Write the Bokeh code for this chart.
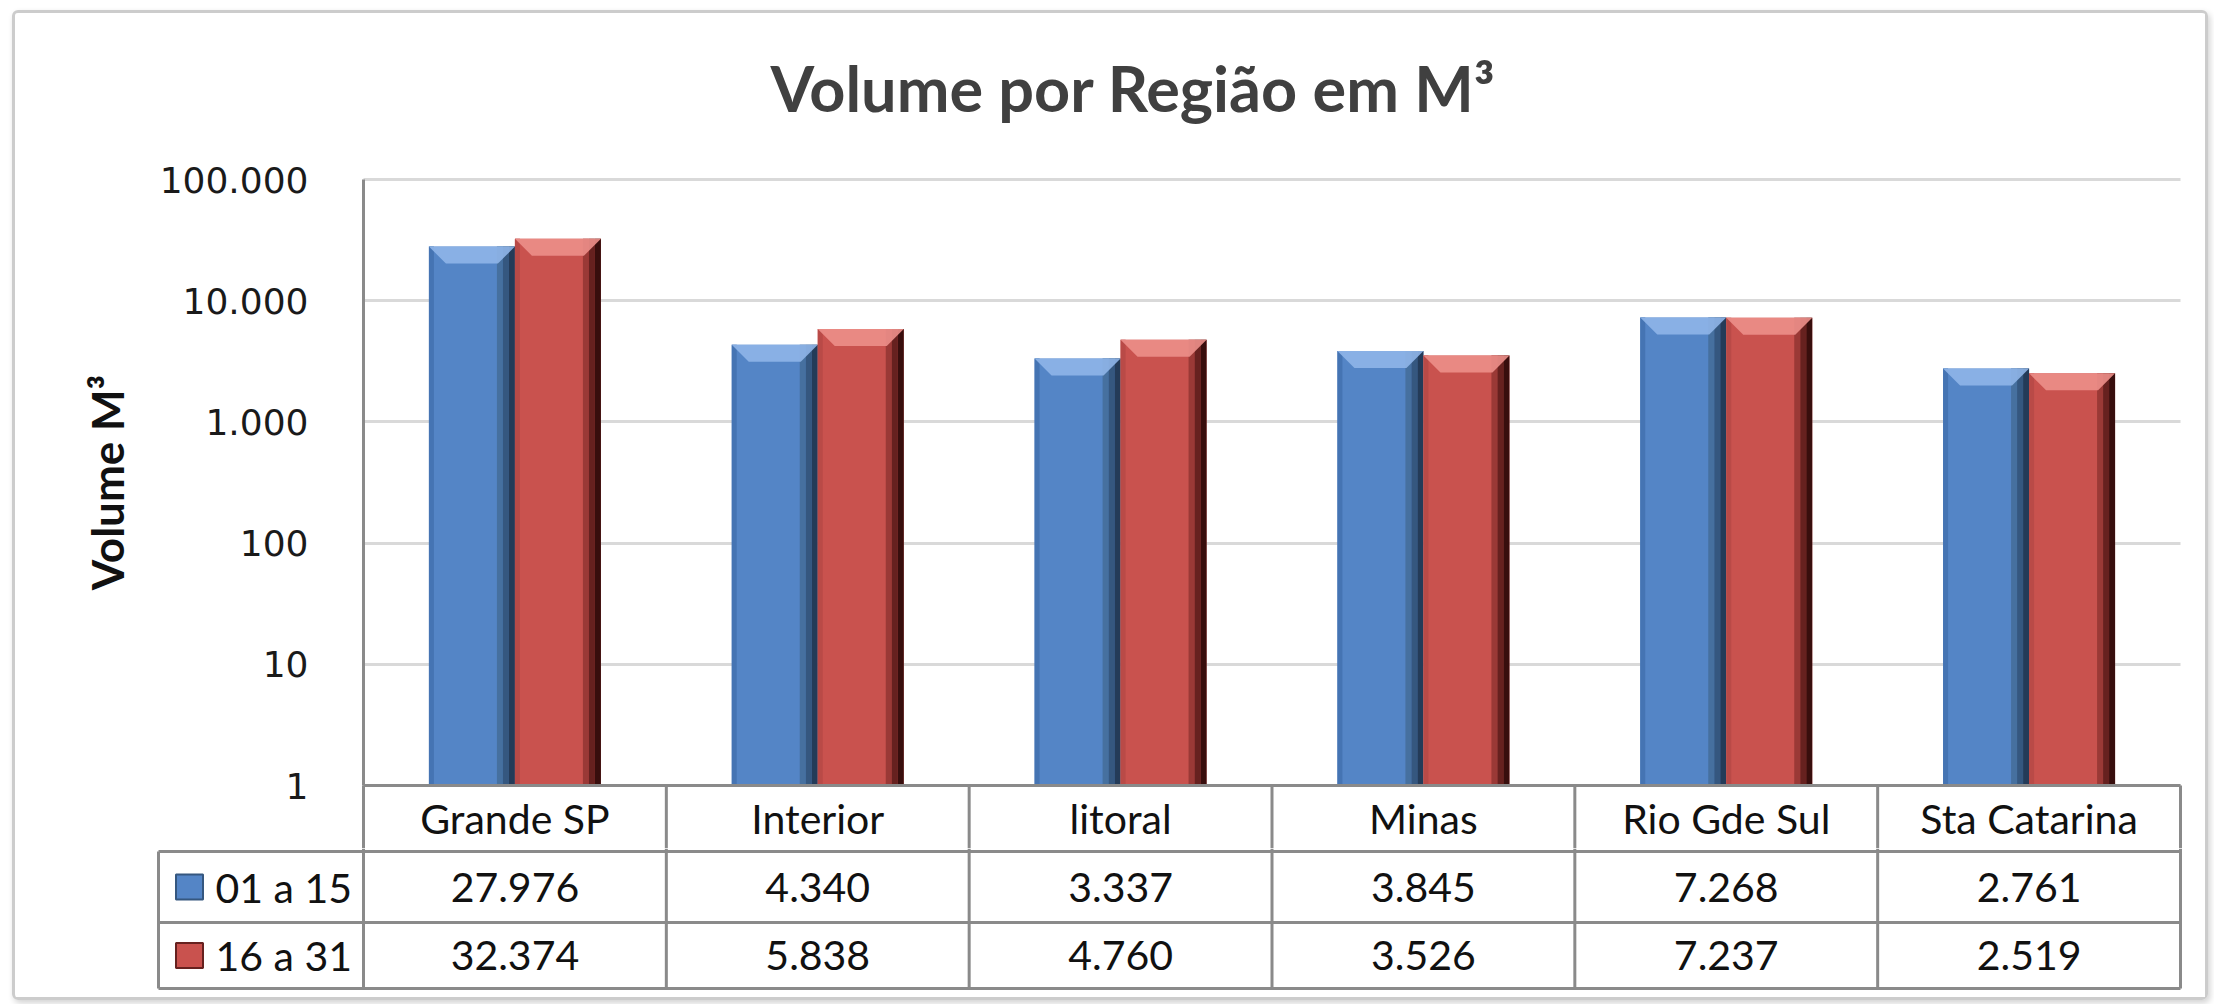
from bokeh.plotting import figure
from bokeh.layouts import column
from bokeh.models import Range1d, FixedTicker, CustomJSTickFormatter, BoxAnnotation
from bokeh.core.properties import value
from bokeh.embed import file_html
from bokeh.resources import INLINE

# ---------------- data ----------------
categories = ["Grande SP", "Interior", "litoral", "Minas", "Rio Gde Sul", "Sta Catarina"]
series_names = ["01 a 15", "16 a 31"]
vol_01_15 = [27976, 4340, 3337, 3845, 7268, 2761]
vol_16_31 = [32374, 5838, 4760, 3526, 7237, 2519]
y_ticks = [1, 10, 100, 1000, 10000, 100000]
y_tick_labels = ["1", "10", "100", "1.000", "10.000", "100.000"]
TITLE = "Volume por Região em M³"
Y_LABEL = "Volume M³"

# ---------------- geometry / style ----------------
FW = 2190                # figure width
N = len(categories)
PX = 1817 / N            # pixels per category
DEC = 121.2              # pixels per decade
BAR_W = 86 / PX
OFFS = [-43 / PX, 43 / PX]
STYLE = [
    dict(main="#5485c6", chamfer="#8fb5e8", left="#4574b3",
         right=["#46709f", "#35577f", "#243b58"]),
    dict(main="#c9524e", chamfer="#ec8f8a", left="#b94a47",
         right=["#9a3936", "#66211f", "#380e0d"]),
]
FONT_TXT = "Lato"
LINE = "#8a8a8a"
XR = (-313 / PX, N + 4 / PX)

def fmt(v):
    return f"{v:,}".replace(",", ".")

# ---------------- chart figure (plot area + category row) ----------------
ya0 = 10 ** (-63 / DEC)
ya1 = 10 ** (5 + 24 / DEC)
pA = figure(width=FW, height=835, x_range=Range1d(*XR), y_range=Range1d(ya0, ya1),
            y_axis_type="log", x_axis_location=None, output_backend="svg",
            toolbar_location=None, min_border_left=35, min_border_right=21,
            min_border_top=142, min_border_bottom=0, title=TITLE)
pA.outline_line_color = None
pA.background_fill_color = "white"
pA.border_fill_color = "white"
for g in pA.xgrid:
    g.visible = False

pA.title.text_font = "Lato"
pA.title.text_font_style = "bold"
pA.title.text_font_size = "63px"
pA.title.text_color = "#404040"
pA.title.align = "left"
pA.title.offset = 720
pA.title.standoff = 62

ticker = FixedTicker(ticks=y_ticks, minor_ticks=[])
ax = pA.yaxis[0]
ax.fixed_location = 0
ax.bounds = (1, 100000)
ax.ticker = ticker
ax.formatter = CustomJSTickFormatter(args=dict(tvals=y_ticks, tlabels=y_tick_labels), code="""
const i = tvals.findIndex(t => Math.abs(t - tick) <= 1e-6 * t);
return i >= 0 ? tlabels[i] : '';
""")
ax.major_label_text_font = "DejaVu Sans"
ax.major_label_text_font_size = "36px"
ax.major_label_text_color = "#1a1a1a"
ax.major_label_standoff = 55
ax.major_tick_line_color = None
ax.minor_tick_line_color = None
ax.major_tick_out = 0
ax.major_tick_in = 0
ax.axis_line_color = LINE
ax.axis_line_width = 3
ax.axis_label = Y_LABEL
ax.axis_label_text_font = "Lato"
ax.axis_label_text_font_style = "bold"
ax.axis_label_text_font_size = "44px"
ax.axis_label_text_color = "#111111"
ax.axis_label_standoff = 24

yg = pA.ygrid[0]
yg.ticker = ticker
yg.grid_line_color = "#d9d9d9"
yg.grid_line_width = 3
if "cross_bounds" in yg.properties():
    yg.cross_bounds = (0, N + 0.0)
else:
    pA.add_layout(BoxAnnotation(right=0, fill_color="white", fill_alpha=1,
                                line_color=None, level="underlay"))

f_ch = 10 ** (17 / DEC)
d_ch = 17 / PX
for s, vals in enumerate([vol_01_15, vol_16_31]):
    st = STYLE[s]
    centers = [i + 0.5 + OFFS[s] for i in range(N)]
    lefts = [c - BAR_W / 2 for c in centers]
    pA.vbar(x=centers, top=vals, bottom=1, width=BAR_W, fill_color=st["main"], line_color=None)
    pA.vbar(x=[l + 2.5 / PX for l in lefts], top=vals, bottom=1, width=5 / PX,
            fill_color=st["left"], line_color=None)
    for k, col in enumerate(st["right"]):
        xr = [l + (86 - 18 + 6 * k + 3) / PX for l in lefts]
        pA.vbar(x=xr, top=vals, bottom=1, width=6 / PX, fill_color=col, line_color=None)
    xs = [[l, l + BAR_W, l + BAR_W - d_ch, l + d_ch] for l in lefts]
    ys = [[v, v, v / f_ch, v / f_ch] for v in vals]
    pA.patches(xs=xs, ys=ys, fill_color=st["chamfer"], line_color=None, fill_alpha=0.9)

# category row of the data table (just below the axis)
pA.segment(x0=[0], x1=[N], y0=[1], y1=[1], line_color=LINE, line_width=3)
pA.segment(x0=list(range(0, N + 1)), x1=list(range(0, N + 1)), y0=ya0, y1=1,
           line_color=LINE, line_width=3)
cx = [i + 0.5 for i in range(N)]
pA.text(x=cx, y=[10 ** (-33 / DEC)] * N, text=categories, text_align="center",
        text_baseline="middle", text_font=value(FONT_TXT), text_font_size="41px",
        text_color="#111111")

# ---------------- data table figure (series rows) ----------------
xl = -205 / PX
YT = 140
pB = figure(width=FW, height=149, x_range=Range1d(*XR), y_range=Range1d(-4, YT),
            x_axis_location=None, y_axis_location=None, output_backend="svg",
            toolbar_location=None, min_border_left=35, min_border_right=21,
            min_border_top=0, min_border_bottom=5)
pB.outline_line_color = None
pB.background_fill_color = "white"
pB.border_fill_color = "white"
for g in pB.grid:
    g.visible = False

row_lines = [137, 66, 0]
pB.segment(x0=[xl] * 3, x1=[N] * 3, y0=row_lines, y1=row_lines, line_color=LINE, line_width=3)
pB.segment(x0=list(range(N + 1)), x1=list(range(N + 1)), y0=0, y1=YT,
           line_color=LINE, line_width=3)
pB.segment(x0=[xl], x1=[xl], y0=[0], y1=[137], line_color=LINE, line_width=3)

row_y = [101.5, 33]
for s, vals in enumerate([vol_01_15, vol_16_31]):
    pB.text(x=cx, y=[row_y[s]] * N, text=[fmt(v) for v in vals], text_align="center",
            text_baseline="middle", text_font=value(FONT_TXT), text_font_size="41px",
            text_color="#111111")
    pB.rect(x=[(189 - 363) / PX], y=[row_y[s]], width=27, height=25, width_units="screen",
            height_units="screen", fill_color=STYLE[s]["main"], line_color=STYLE[s]["right"][1],
            line_width=2)
    pB.text(x=[(215 - 363) / PX], y=[row_y[s]], text=[series_names[s]], text_align="left",
            text_baseline="middle", text_font=value(FONT_TXT), text_font_size="41px",
            text_color="#111111")

layout = column(pA, pB, spacing=0,
                styles={"margin-left": "12px", "margin-top": "10px",
                        "border": "3px solid #cccccc", "border-radius": "6px",
                        "box-shadow": "2px 3px 6px rgba(0,0,0,0.18)"})

open("out.html", "w").write(file_html(layout, INLINE))
